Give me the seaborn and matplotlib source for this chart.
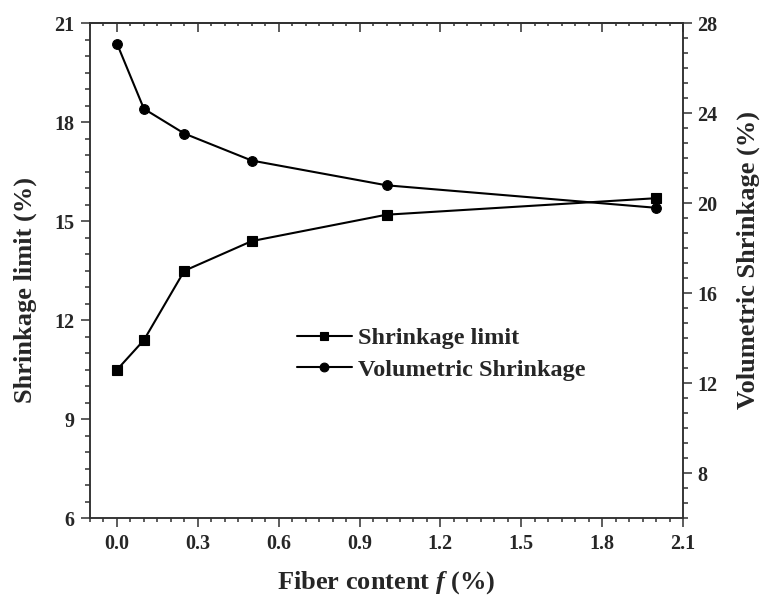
import matplotlib
matplotlib.use('Agg')
import matplotlib.pyplot as plt
import seaborn as sns
import pandas as pd
from matplotlib.ticker import MultipleLocator, FormatStrFormatter

# ---- data ----
fiber_content = [0.0, 0.1, 0.25, 0.5, 1.0, 2.0]
shrinkage_limit = [10.5, 11.4, 13.5, 14.4, 15.2, 15.7]
volumetric_shrinkage = [27.1, 24.2, 23.1, 21.9, 20.8, 19.8]
series_names = ["Shrinkage limit", "Volumetric Shrinkage"]
x_label = "Fiber content $\\mathbfit{f}$ (%)"
y_left_label = "Shrinkage limit (%)"
y_right_label = "Volumetric Shrinkage (%)"

sns.set_style("ticks")
plt.rcParams['font.family'] = ['Liberation Serif', 'DejaVu Serif']
plt.rcParams['font.weight'] = 'bold'
plt.rcParams['mathtext.fontset'] = 'custom'
plt.rcParams['mathtext.it'] = 'Liberation Serif:italic:bold'
plt.rcParams['mathtext.bfit'] = 'Liberation Serif:italic:bold'
plt.rcParams['mathtext.bf'] = 'Liberation Serif:bold'
plt.rcParams['mathtext.rm'] = 'Liberation Serif:bold'

df1 = pd.DataFrame({"x": fiber_content, "y": shrinkage_limit})
df2 = pd.DataFrame({"x": fiber_content, "y": volumetric_shrinkage})

W, H = 761, 598
fig = plt.figure(figsize=(W/100, H/100), dpi=100)
ax = fig.add_axes([90/W, 1-518.3/H, (683-90)/W, (518.3-23.3)/H])
ax2 = ax.twinx()

spine_col = '#303030'
lw_sp = 1.1
tick_fs = 14.5
label_fs = 19

sns.lineplot(data=df1, x="x", y="y", ax=ax, color='black', marker='s',
             markersize=6.5, markeredgecolor='black', markeredgewidth=0.8,
             linewidth=1.5, label=series_names[0], legend=False)
sns.lineplot(data=df2, x="x", y="y", ax=ax2, color='black', marker='o',
             markersize=7, markeredgecolor='black', markeredgewidth=0.8,
             linewidth=1.5, label=series_names[1], legend=False)

ax.set_xlim(-0.1, 2.1)
ax.set_ylim(6, 21)
ax2.set_ylim(6, 28)

ax.xaxis.set_major_locator(MultipleLocator(0.3))
ax.xaxis.set_minor_locator(MultipleLocator(0.05))
ax.xaxis.set_major_formatter(FormatStrFormatter('%.1f'))
ax.yaxis.set_major_locator(MultipleLocator(3))
ax.yaxis.set_minor_locator(MultipleLocator(0.5))
ax2.yaxis.set_major_locator(MultipleLocator(4))
ax2.yaxis.set_minor_locator(MultipleLocator(4/6))

for a in (ax, ax2):
    for s in a.spines.values():
        s.set_linewidth(lw_sp)
        s.set_color(spine_col)
        s.set_visible(True)

ax.tick_params(axis='x', which='both', direction='out', bottom=True, top=False,
               color=spine_col, width=lw_sp, labelsize=tick_fs, pad=5)
ax.tick_params(axis='x', which='major', length=6.5)
ax.tick_params(axis='x', which='minor', length=3.2)
ax.tick_params(axis='y', which='both', direction='out', left=True, right=False,
               color=spine_col, width=lw_sp, labelsize=tick_fs, pad=5)
ax.tick_params(axis='y', which='major', length=6.5)
ax.tick_params(axis='y', which='minor', length=3.5)
ax2.tick_params(axis='y', which='both', direction='out', right=True, left=False,
                color=spine_col, width=lw_sp, labelsize=tick_fs, pad=3.5)
ax2.tick_params(axis='y', which='major', length=6.5)
ax2.tick_params(axis='y', which='minor', length=3.5)

top = ax.secondary_xaxis('top')
top.xaxis.set_major_locator(MultipleLocator(0.3))
top.xaxis.set_minor_locator(MultipleLocator(0.05))
top.tick_params(axis='x', which='both', direction='in', labeltop=False,
                color=spine_col, width=lw_sp)
top.tick_params(axis='x', which='major', length=6.5)
top.tick_params(axis='x', which='minor', length=2.5)
top.spines['top'].set_linewidth(lw_sp)
top.spines['top'].set_color(spine_col)

for lab in ax.get_xticklabels() + ax.get_yticklabels() + ax2.get_yticklabels():
    lab.set_fontweight('bold')

ax.set_xlabel("")
ax.set_ylabel("")
ax2.set_ylabel("")
fig.text(386.5/W, 1-583/H, x_label, ha='center', va='center',
         fontsize=label_fs, fontweight='bold')
fig.text(25/W, 1-290/H, y_left_label, ha='center', va='center', rotation=90,
         fontsize=label_fs, fontweight='bold')
fig.text(748/W, 1-260/H, y_right_label, ha='center', va='center', rotation=90,
         fontsize=label_fs, fontweight='bold')

h1, l1 = ax.get_legend_handles_labels()
h2, l2 = ax2.get_legend_handles_labels()
leg = ax.legend(h1 + h2, l1 + l2, loc='upper left',
                bbox_to_anchor=((297-90)/593, 1-(327-23.3)/495),
                frameon=False, handlelength=2.26, markerscale=0.9,
                handletextpad=0.25, labelspacing=0.4, borderaxespad=0,
                borderpad=0, prop={'weight': 'bold', 'size': 17.5})

fig.savefig('out.png', dpi=100)
